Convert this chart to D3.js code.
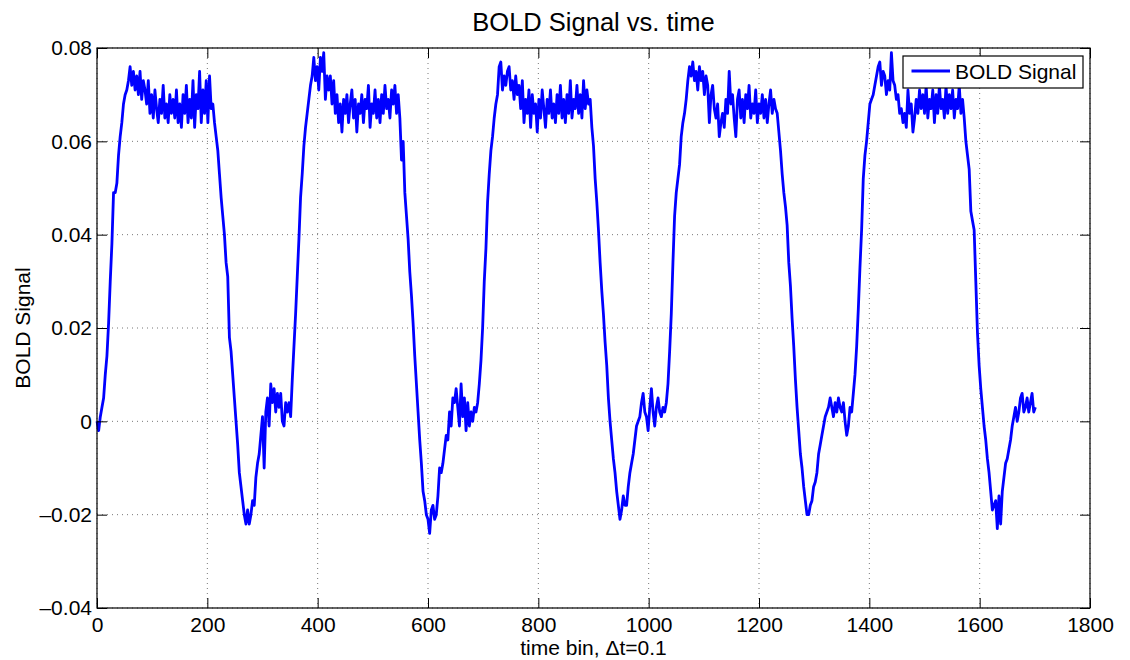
<!DOCTYPE html>
<html>
<head>
<meta charset="utf-8">
<script src="https://cdn.jsdelivr.net/npm/d3@7"></script>
<style>
  body { margin: 0; background: #fff; }
  text { font-family: "Liberation Sans", Arial, Helvetica, sans-serif; fill: #000; }
</style>
</head>
<body>
<svg width="1130" height="660"></svg>
<script>
// BOLD signal, one value every 3 time bins
var binStep = 3;
var boldSignal = [
  0.000, -0.002, 0.001, 0.003, 0.005, 0.010, 0.014, 0.021, 0.030, 0.038,
  0.049, 0.049, 0.051, 0.057, 0.061, 0.064, 0.068, 0.070, 0.071, 0.073,
  0.076, 0.072, 0.075, 0.071, 0.074, 0.070, 0.075, 0.069, 0.073, 0.071,
  0.068, 0.073, 0.066, 0.070, 0.065, 0.071, 0.067, 0.064, 0.069, 0.066,
  0.072, 0.065, 0.068, 0.064, 0.070, 0.066, 0.069, 0.065, 0.071, 0.064,
  0.068, 0.063, 0.070, 0.066, 0.072, 0.064, 0.069, 0.065, 0.073, 0.063,
  0.070, 0.067, 0.075, 0.064, 0.071, 0.066, 0.073, 0.064, 0.074, 0.067,
  0.068, 0.064, 0.061, 0.058, 0.053, 0.048, 0.044, 0.040, 0.034, 0.031,
  0.018, 0.015, 0.010, 0.005, 0.000, -0.005, -0.011, -0.014, -0.017, -0.020,
  -0.022, -0.019, -0.022, -0.020, -0.017, -0.018, -0.012, -0.009, -0.007, -0.003,
  0.001, -0.010, 0.002, 0.005, -0.001, 0.008, 0.004, 0.007, 0.002, 0.006,
  0.003, 0.006, 0.000, -0.001, 0.004, 0.002, 0.004, 0.001, 0.009, 0.016,
  0.023, 0.031, 0.039, 0.048, 0.053, 0.059, 0.063, 0.066, 0.069, 0.072,
  0.074, 0.078, 0.073, 0.076, 0.071, 0.078, 0.075, 0.079, 0.069, 0.074,
  0.071, 0.074, 0.068, 0.073, 0.066, 0.070, 0.064, 0.068, 0.062, 0.069,
  0.066, 0.070, 0.064, 0.068, 0.071, 0.065, 0.069, 0.062, 0.068, 0.066,
  0.070, 0.064, 0.069, 0.067, 0.072, 0.063, 0.068, 0.066, 0.071, 0.065,
  0.069, 0.064, 0.070, 0.066, 0.072, 0.067, 0.069, 0.065, 0.071, 0.068,
  0.072, 0.066, 0.070, 0.065, 0.056, 0.060, 0.049, 0.044, 0.039, 0.032,
  0.027, 0.021, 0.014, 0.008, 0.002, -0.004, -0.009, -0.015, -0.017, -0.020,
  -0.021, -0.024, -0.019, -0.018, -0.021, -0.020, -0.016, -0.010, -0.011, -0.009,
  -0.006, -0.003, -0.004, 0.002, -0.001, 0.005, 0.004, 0.007, 0.003, -0.001,
  0.008, 0.001, 0.005, -0.002, 0.004, -0.001, 0.002, 0.000, 0.003, 0.002,
  0.004, 0.008, 0.013, 0.020, 0.030, 0.037, 0.047, 0.053, 0.058, 0.061,
  0.065, 0.068, 0.070, 0.076, 0.077, 0.071, 0.074, 0.072, 0.075, 0.076,
  0.071, 0.073, 0.069, 0.074, 0.070, 0.072, 0.067, 0.073, 0.064, 0.069,
  0.066, 0.071, 0.063, 0.070, 0.066, 0.068, 0.062, 0.069, 0.065, 0.071,
  0.067, 0.063, 0.069, 0.066, 0.071, 0.065, 0.068, 0.064, 0.070, 0.066,
  0.072, 0.065, 0.069, 0.064, 0.070, 0.066, 0.073, 0.065, 0.069, 0.067,
  0.072, 0.066, 0.070, 0.065, 0.073, 0.067, 0.071, 0.068, 0.069, 0.063,
  0.059, 0.052, 0.047, 0.041, 0.034, 0.028, 0.023, 0.017, 0.012, 0.005,
  0.000, -0.004, -0.008, -0.011, -0.015, -0.018, -0.021, -0.019, -0.016, -0.018,
  -0.018, -0.014, -0.011, -0.009, -0.007, -0.004, -0.001, 0.000, 0.001, 0.004,
  0.006, 0.002, 0.001, -0.002, 0.003, 0.007, 0.002, -0.001, 0.003, 0.005,
  0.002, 0.001, 0.003, 0.002, 0.004, 0.008, 0.015, 0.023, 0.034, 0.044,
  0.049, 0.052, 0.055, 0.061, 0.064, 0.066, 0.069, 0.073, 0.076, 0.074,
  0.077, 0.073, 0.075, 0.071, 0.076, 0.073, 0.075, 0.070, 0.074, 0.072,
  0.064, 0.070, 0.072, 0.067, 0.065, 0.068, 0.061, 0.064, 0.066, 0.063,
  0.069, 0.066, 0.075, 0.068, 0.070, 0.065, 0.061, 0.069, 0.071, 0.065,
  0.069, 0.064, 0.070, 0.067, 0.072, 0.065, 0.068, 0.066, 0.071, 0.064,
  0.068, 0.066, 0.070, 0.065, 0.069, 0.064, 0.068, 0.071, 0.066, 0.069,
  0.067, 0.066, 0.062, 0.058, 0.053, 0.049, 0.046, 0.042, 0.034, 0.029,
  0.022, 0.016, 0.009, 0.003, -0.002, -0.007, -0.010, -0.014, -0.017, -0.020,
  -0.020, -0.018, -0.017, -0.014, -0.013, -0.011, -0.007, -0.005, -0.003, -0.001,
  0.001, 0.002, 0.003, 0.005, 0.003, 0.001, 0.004, 0.002, 0.005, 0.003,
  0.002, 0.004, 0.000, -0.003, -0.001, 0.003, 0.002, 0.006, 0.010, 0.016,
  0.024, 0.033, 0.041, 0.052, 0.057, 0.060, 0.064, 0.068, 0.069, 0.070,
  0.072, 0.074, 0.076, 0.077, 0.072, 0.075, 0.074, 0.070, 0.073, 0.071,
  0.079, 0.073, 0.072, 0.069, 0.070, 0.066, 0.067, 0.064, 0.066, 0.063,
  0.071, 0.066, 0.068, 0.062, 0.065, 0.069, 0.066, 0.071, 0.067, 0.070,
  0.066, 0.072, 0.065, 0.069, 0.067, 0.071, 0.064, 0.070, 0.066, 0.072,
  0.067, 0.069, 0.065, 0.072, 0.066, 0.070, 0.067, 0.071, 0.065, 0.069,
  0.067, 0.072, 0.066, 0.069, 0.065, 0.060, 0.057, 0.054, 0.045, 0.043,
  0.041, 0.030, 0.019, 0.012, 0.007, 0.003, -0.001, -0.004, -0.008, -0.011,
  -0.015, -0.019, -0.018, -0.017, -0.023, -0.016, -0.022, -0.015, -0.012, -0.009,
  -0.008, -0.006, -0.004, -0.001, 0.001, 0.003, 0.000, 0.002, 0.005, 0.006,
  0.002, 0.003, 0.005, 0.002, 0.004, 0.006, 0.002, 0.003
];

var xTicks = [0, 200, 400, 600, 800, 1000, 1200, 1400, 1600, 1800];
var yTicks = [-0.04, -0.02, 0, 0.02, 0.04, 0.06, 0.08];
var yTickLabels = ['\u20130.04', '\u20130.02', '0', '0.02', '0.04', '0.06', '0.08'];

var svg = d3.select('svg');
var svgWidth = +svg.attr('width');
var svgHeight = +svg.attr('height');

var padding = {t: 48, r: 40, b: 52, l: 97};
var chartWidth = svgWidth - padding.l - padding.r;
var chartHeight = svgHeight - padding.t - padding.b;

var chartG = svg.append('g')
    .attr('transform', 'translate(' + [padding.l, padding.t] + ')');

var x = d3.scaleLinear().domain([0, 1800]).range([0, chartWidth]);
var y = d3.scaleLinear().domain([-0.04, 0.08]).range([chartHeight, 0]);

// dotted grid
chartG.append('g')
    .selectAll('line')
    .data(xTicks)
    .enter()
    .append('line')
    .attr('x1', function(d) { return x(d); })
    .attr('x2', function(d) { return x(d); })
    .attr('y1', 0)
    .attr('y2', chartHeight)
    .attr('stroke', '#777')
    .attr('stroke-width', 1)
    .attr('stroke-dasharray', '1,4');

chartG.append('g')
    .selectAll('line')
    .data(yTicks)
    .enter()
    .append('line')
    .attr('x1', 0)
    .attr('x2', chartWidth)
    .attr('y1', function(d) { return y(d); })
    .attr('y2', function(d) { return y(d); })
    .attr('stroke', '#777')
    .attr('stroke-width', 1)
    .attr('stroke-dasharray', '1,4');

// signal line
var line = d3.line()
    .x(function(d, i) { return x(i * binStep); })
    .y(function(d) { return y(d); });

chartG.append('path')
    .datum(boldSignal)
    .attr('d', line)
    .attr('fill', 'none')
    .attr('stroke', '#0000ff')
    .attr('stroke-width', 2.8)
    .attr('stroke-linejoin', 'round');

// axes, matlab style with inward ticks
function styleAxis(g) {
    g.select('.domain').remove();
    g.selectAll('.tick line').attr('stroke', '#000');
    g.selectAll('.tick text').style('font-size', '21px').attr('fill', '#000');
}

chartG.append('g')
    .attr('transform', 'translate(0,' + chartHeight + ')')
    .call(d3.axisBottom(x).tickValues(xTicks).tickSizeInner(-10).tickSizeOuter(0).tickPadding(9)
        .tickFormat(d3.format('d')))
    .call(styleAxis);

chartG.append('g')
    .call(d3.axisTop(x).tickValues(xTicks).tickSizeInner(-10).tickSizeOuter(0).tickFormat(''))
    .call(styleAxis);

chartG.append('g')
    .call(d3.axisLeft(y).tickValues(yTicks).tickSizeInner(-10).tickSizeOuter(0).tickPadding(5)
        .tickFormat(function(d, i) { return yTickLabels[i]; }))
    .call(styleAxis);

chartG.append('g')
    .attr('transform', 'translate(' + chartWidth + ',0)')
    .call(d3.axisRight(y).tickValues(yTicks).tickSizeInner(-10).tickSizeOuter(0).tickFormat(''))
    .call(styleAxis);

chartG.append('rect')
    .attr('width', chartWidth)
    .attr('height', chartHeight)
    .attr('fill', 'none')
    .attr('stroke', '#000')
    .attr('stroke-width', 1.2);

// legend
var legendG = chartG.append('g')
    .attr('transform', 'translate(' + (chartWidth - 187) + ',8)');
legendG.append('rect')
    .attr('width', 180)
    .attr('height', 32)
    .attr('fill', '#fff')
    .attr('stroke', '#000')
    .attr('stroke-width', 1.2);
legendG.append('line')
    .attr('x1', 8.5).attr('x2', 47)
    .attr('y1', 15).attr('y2', 15)
    .attr('stroke', '#0000ff')
    .attr('stroke-width', 2.8);
legendG.append('text')
    .attr('x', 52)
    .attr('y', 22.5)
    .style('font-size', '21px')
    .text('BOLD Signal');

// titles
svg.append('text')
    .attr('x', padding.l + chartWidth / 2)
    .attr('y', 31)
    .attr('text-anchor', 'middle')
    .style('font-size', '25.5px')
    .text('BOLD Signal vs. time');

svg.append('text')
    .attr('x', padding.l + chartWidth / 2)
    .attr('y', 655)
    .attr('text-anchor', 'middle')
    .style('font-size', '21px')
    .text('time bin, \u0394t=0.1');

svg.append('text')
    .attr('transform', 'translate(30,' + (padding.t + chartHeight / 2) + ') rotate(-90)')
    .attr('text-anchor', 'middle')
    .style('font-size', '21px')
    .text('BOLD Signal');
</script>
</body>
</html>
